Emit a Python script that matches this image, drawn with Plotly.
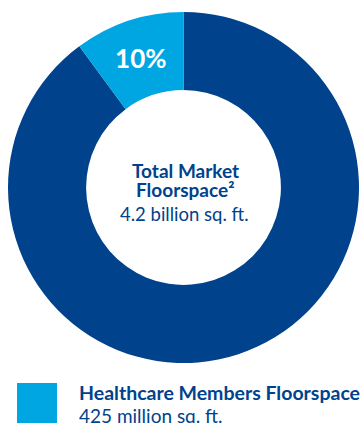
import plotly.graph_objects as go

# Floorspace figures (sq. ft.)
total_floorspace = 4.2e9
healthcare_floorspace = 425e6
segment_labels = ["Other Market Floorspace", "Healthcare Members Floorspace"]
segment_values = [total_floorspace - healthcare_floorspace, healthcare_floorspace]
segment_colors = ["#00428C", "#00A6E2"]

center_title = ["Total Market", "Floorspace²"]
center_value = "4.2 billion sq. ft."
legend_title = "Healthcare Members Floorspace"
legend_value = "425 million sq. ft."

W, H = 361, 423
NAVY = "#00428C"
FONT = "Lato"


def px_x(x):
    return x / W


def px_y(y):
    return 1 - y / H


fig = go.Figure(
    go.Pie(
        labels=segment_labels,
        values=segment_values,
        hole=0.555,
        sort=False,
        direction="clockwise",
        rotation=0,
        marker=dict(colors=segment_colors, line=dict(width=0)),
        texttemplate=["", "<b>%{percent:.0%}</b>"],
        textposition="inside",
        insidetextorientation="horizontal",
        textfont=dict(family=FONT, size=26, color="white"),
        hoverinfo="label+value",
        showlegend=False,
        domain=dict(x=[px_x(8), px_x(359)], y=[px_y(363), px_y(12)]),
    )
)

annotations = []
# Centre label of the donut
for text, cy in [(f"<b>{center_title[0]}</b>", 170), (f"<b>{center_title[1]}</b>", 189)]:
    annotations.append(dict(
        text=text, x=px_x(185), y=px_y(cy), xref="paper", yref="paper",
        xanchor="center", yanchor="middle", showarrow=False,
        font=dict(family=FONT, size=19, color=NAVY),
    ))
annotations.append(dict(
    text=center_value, x=px_x(184), y=px_y(214), xref="paper", yref="paper",
    xanchor="center", yanchor="middle", showarrow=False,
    font=dict(family=FONT, size=18.5, color=NAVY),
))

# Legend entry below the chart
annotations.append(dict(
    text=f"<b>{legend_title}</b>", x=px_x(77), y=px_y(392), xref="paper", yref="paper",
    xanchor="left", yanchor="middle", showarrow=False,
    font=dict(family=FONT, size=19.5, color=NAVY),
))
annotations.append(dict(
    text=legend_value, x=px_x(77), y=px_y(415), xref="paper", yref="paper",
    xanchor="left", yanchor="middle", showarrow=False,
    font=dict(family=FONT, size=19, color=NAVY),
))

fig.update_layout(
    width=W, height=H,
    margin=dict(l=0, r=0, t=0, b=0),
    paper_bgcolor="white", plot_bgcolor="white",
    annotations=annotations,
    shapes=[dict(
        type="rect", xref="paper", yref="paper",
        x0=px_x(17), x1=px_x(57), y0=px_y(425), y1=px_y(383),
        fillcolor=segment_colors[1], line=dict(width=0),
    )],
)

fig.write_html("out.html")
